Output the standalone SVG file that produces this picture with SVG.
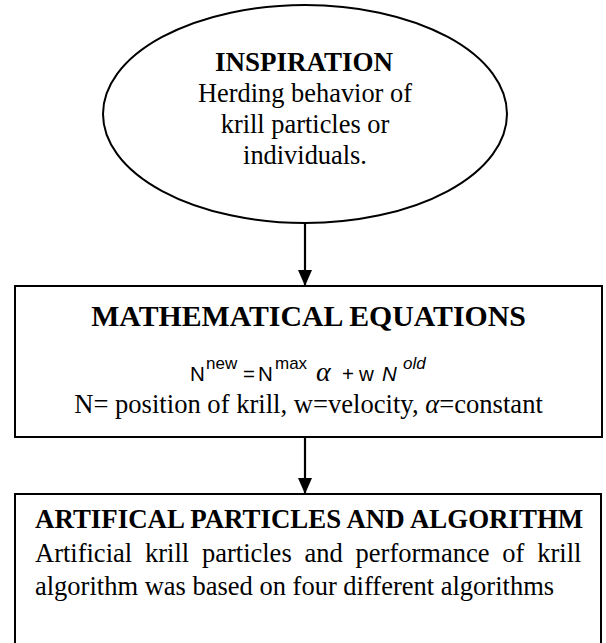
<svg xmlns="http://www.w3.org/2000/svg" width="606" height="643" viewBox="0 0 606 643">
<style>
.shape{fill:#fff;stroke:#000;stroke-width:2}
.conn{stroke:#000;stroke-width:2.2;fill:none}
</style>
<defs>
<marker id="arr" markerWidth="16" markerHeight="14" refX="16" refY="7" orient="auto" markerUnits="userSpaceOnUse">
<path d="M0,0 L16,7 L0,14 Z" fill="#000"/>
</marker>
</defs>
<rect width="606" height="643" fill="#fff"/>
<g id="inspiration" font-family="Liberation Serif, Times New Roman, serif" fill="#000">
<ellipse class="shape" cx="305" cy="114" rx="202" ry="109"/>
<text x="304" y="71" font-size="27" font-weight="bold" text-anchor="middle">INSPIRATION</text>
<text x="305" y="102" font-size="26.4" text-anchor="middle">Herding behavior of</text>
<text x="305" y="133" font-size="26.4" text-anchor="middle">krill particles or</text>
<text x="305" y="164" font-size="26.4" text-anchor="middle">individuals.</text>
</g>
<g id="equations" font-family="Liberation Serif, Times New Roman, serif" fill="#000">
<rect class="shape" x="15" y="286" width="587" height="151"/>
<text x="308.5" y="326" font-size="29.8" font-weight="bold" text-anchor="middle">MATHEMATICAL EQUATIONS</text>
<text font-family="Liberation Sans, Arial, sans-serif" y="381" font-size="20.5"><tspan x="190">N</tspan><tspan x="206" y="369" font-size="17">new</tspan><tspan x="243" y="381">=</tspan><tspan x="258">N</tspan><tspan x="275" y="369" font-size="17">max</tspan><tspan x="316" y="381" font-family="Liberation Serif, serif" font-style="italic" font-size="28">α</tspan><tspan x="342" y="381">+</tspan><tspan x="359">w</tspan><tspan x="382" font-style="italic">N</tspan><tspan x="403" y="369" font-size="17" font-style="italic">old</tspan></text>
<text x="308.5" y="413" font-size="26.6" text-anchor="middle">N= position of krill, w=velocity, <tspan font-style="italic">α</tspan>=constant</text>
</g>
<g id="artificial" font-family="Liberation Serif, Times New Roman, serif" fill="#000">
<rect class="shape" x="15" y="494" width="586" height="160"/>
<text x="35" y="528" font-size="26.9" font-weight="bold">ARTIFICAL PARTICLES AND ALGORITHM</text>
<text x="35" y="562" font-size="26.5" word-spacing="6.2">Artificial krill particles and performance of krill</text>
<text x="35" y="595" font-size="26.5">algorithm was based on four different algorithms</text>
</g>
<g id="connectors">
<line class="conn" x1="305" y1="223" x2="305" y2="286" marker-end="url(#arr)"/>
<line class="conn" x1="305" y1="437" x2="305" y2="494" marker-end="url(#arr)"/>
</g>
</svg>
